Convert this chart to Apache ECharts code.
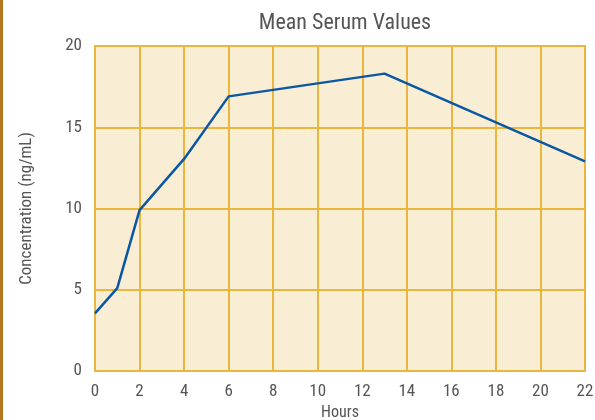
<!DOCTYPE html>
<html><head><meta charset="utf-8">
<script src="https://cdn.jsdelivr.net/npm/echarts@6/dist/echarts.min.js"></script>
<style>html,body{margin:0;padding:0;background:#fff}#c{width:595px;height:420px}</style>
</head><body><div id="c"></div>
<script>
const hours = [0, 1, 2, 4, 6, 13, 22];
const concentration = [3.55, 5.1, 9.9, 13.05, 16.9, 18.3, 12.9];
const xTicks = [0, 2, 4, 6, 8, 10, 12, 14, 16, 18, 20, 22];
const yTicks = [0, 5, 10, 15, 20];
const FONT = '"Liberation Sans Narrow", "Roboto Condensed", "Liberation Sans", sans-serif';
const chart = echarts.init(document.getElementById('c'));
const gridColor = '#E9B63E';
chart.setOption({
  animation: false,
  title: {text: 'Mean Serum Values', left: 340, textAlign: 'center', top: 7,
    textStyle: {fontFamily: FONT, fontSize: 22, fontWeight: 'normal', color: '#555'}},
  graphic: [{type: 'rect', shape: {x: 0, y: 0, width: 3, height: 420}, style: {fill: '#B5741E'}}],
  grid: {left: 95, right: 10, top: 46, bottom: 49, outerBoundsMode: 'none', containLabel: false, show: true, backgroundColor: '#F9EDD4', borderColor: gridColor, borderWidth: 2},
  xAxis: {type: 'value', min: 0, max: 22, interval: 2,
    name: 'Hours', nameLocation: 'middle', nameGap: 32,
    nameTextStyle: {fontFamily: FONT, fontSize: 16, color: '#555'},
    axisLine: {show: false}, axisTick: {show: false},
    axisLabel: {fontFamily: FONT, fontSize: 17, color: '#555', margin: 12},
    splitLine: {show: true, lineStyle: {color: gridColor, width: 2}}},
  yAxis: {type: 'value', min: 0, max: 20, interval: 5,
    name: 'Concentration (ng/mL)', nameLocation: 'middle', nameGap: 60,
    nameTextStyle: {fontFamily: FONT, fontSize: 17, color: '#555'},
    axisLine: {show: false}, axisTick: {show: false},
    axisLabel: {fontFamily: FONT, fontSize: 17, color: '#555', margin: 13},
    splitLine: {show: true, lineStyle: {color: gridColor, width: 2}}},
  series: [{type: 'line', data: hours.map((h, i) => [h, concentration[i]]),
    showSymbol: false, lineStyle: {color: '#0A58A3', width: 2.5}}]
});
</script></body></html>
